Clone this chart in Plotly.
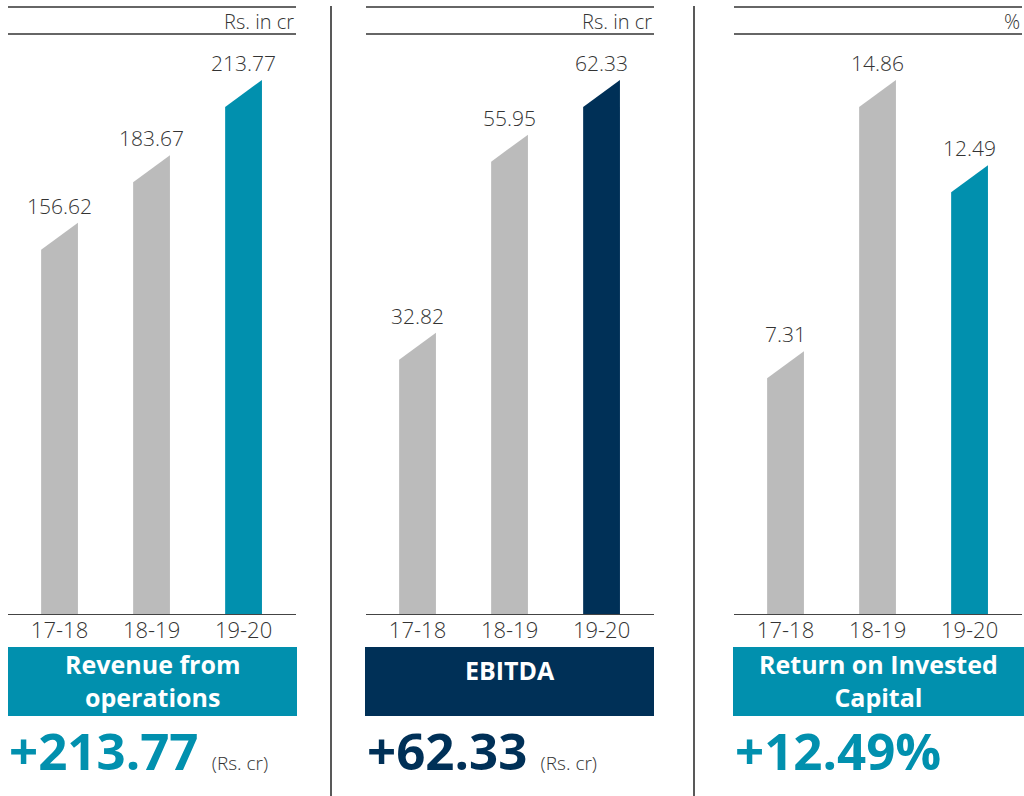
import plotly.graph_objects as go

# ---- data ----
years = ["17-18", "18-19", "19-20"]
revenue = [156.62, 183.67, 213.77]
ebitda = [32.82, 55.95, 62.33]
roic = [7.31, 14.86, 12.49]

titles = ["Revenue from<br>operations", "EBITDA", "Return on Invested<br>Capital"]
units = ["Rs. in cr", "Rs. in cr", "%"]
headline_vals = ["+213.77", "+62.33", "+12.49%"]
headline_units = ["(Rs. cr)", "(Rs. cr)", ""]

GRAY = "#BBBBBB"
TEAL = "#0190AE"
NAVY = "#003057"
TXT = "#333333"
FONT = "Open Sans"

panels = [revenue, ebitda, roic]
highlight = [TEAL, NAVY, TEAL]

W, H = 1024, 796
def px(x):
    return x / W
def py(y):
    return 1 - y / H

x_doms = [(8, 296), (366, 654), (734, 1022)]
box_doms = [(8, 297), (365, 654), (733, 1024)]
base_y, top_y, line1_y = 614, 34, 7
bar_top_px = 80  # pixel position of tallest bar top
half_w = 0.2
slant_px = 27

fig = go.Figure()
layout = dict(
    width=W, height=H, margin=dict(l=0, r=0, t=0, b=0),
    paper_bgcolor="white", plot_bgcolor="white", showlegend=False,
    font=dict(family=FONT, color=TXT),
)
shapes = []
annotations = []

for i, vals in enumerate(panels):
    ax = "" if i == 0 else str(i + 1)
    xa, ya = "x" + ax, "y" + ax
    vmax = max(vals)
    scale_px = (base_y - bar_top_px) / vmax  # pixels per unit
    ymax = (base_y - top_y) / scale_px
    slant = slant_px / scale_px
    colors = [GRAY, GRAY, highlight[i]]
    for j, v in enumerate(vals):
        fig.add_trace(go.Scatter(
            x=[j - half_w, j + half_w, j + half_w, j - half_w, j - half_w],
            y=[0, 0, v, v - slant, 0],
            mode="lines", fill="toself", fillcolor=colors[j],
            line=dict(width=0, color=colors[j]),
            hoverinfo="skip", xaxis=xa, yaxis=ya,
        ))
        annotations.append(dict(
            x=j, y=v, xref=xa, yref=ya, text=f"{v:.2f}", showarrow=False,
            yanchor="middle", yshift=17,
            font=dict(size=21, color=TXT, family=FONT, weight=300),
        ))
    d0, d1 = x_doms[i]
    layout["xaxis" + ax] = dict(
        domain=[px(d0), px(d1)], range=[-0.56, 2.57], anchor=ya,
        tickvals=list(range(len(years))), ticktext=years,
        tickfont=dict(size=22, color=TXT, family=FONT, weight=300),
        ticklabelstandoff=-4,
        showline=True, linecolor="#444444", linewidth=1.3,
        showgrid=False, zeroline=False, ticks="", fixedrange=True,
    )
    layout["yaxis" + ax] = dict(
        domain=[py(base_y), py(top_y)], range=[0, ymax], anchor=xa,
        visible=False, fixedrange=True,
    )
    # top rules
    for yy in (line1_y, top_y):
        shapes.append(dict(type="line", xref="paper", yref="paper",
                           x0=px(d0), x1=px(d1), y0=py(yy), y1=py(yy),
                           line=dict(color="#333333", width=1.3)))
    annotations.append(dict(
        x=px(d1), y=py((line1_y + top_y) / 2 + 1), xref="paper", yref="paper",
        text=units[i], showarrow=False, xanchor="right", yanchor="middle",
        font=dict(size=20, color=TXT, family=FONT, weight=300),
    ))
    # title box
    b0, b1 = box_doms[i]
    shapes.append(dict(type="rect", xref="paper", yref="paper",
                       x0=px(b0), x1=px(b1), y0=py(716), y1=py(647),
                       fillcolor=highlight[i], line=dict(width=0), layer="below"))
    two_line = "<br>" in titles[i]
    annotations.append(dict(
        x=px((b0 + b1) / 2), y=py(680.5 if two_line else 670),
        xref="paper", yref="paper", text="<b>" + titles[i] + "</b>",
        showarrow=False, xanchor="center", yanchor="middle",
        font=dict(size=25, color="white", family=FONT),
    ))
    # headline number
    unit_part = ""
    if headline_units[i]:
        unit_part = (f" <span style='font-size:19px;color:{TXT};font-weight:300'>"
                     f"{headline_units[i]}</span>")
    annotations.append(dict(
        x=px(d0 - 1), y=py(750), xref="paper", yref="paper",
        text=f"<b>{headline_vals[i]}</b>{unit_part}",
        showarrow=False, xanchor="left", yanchor="middle",
        font=dict(size=51, color=highlight[i], family=FONT),
    ))

# vertical separators
for xs in (331, 694):
    shapes.append(dict(type="line", xref="paper", yref="paper",
                       x0=px(xs), x1=px(xs), y0=py(6), y1=py(796),
                       line=dict(color="#222222", width=1.5)))

layout["shapes"] = shapes
layout["annotations"] = annotations
fig.update_layout(**layout)
fig.write_html("out.html", config={"displayModeBar": False},
               post_script="document.body.style.margin='0';")
